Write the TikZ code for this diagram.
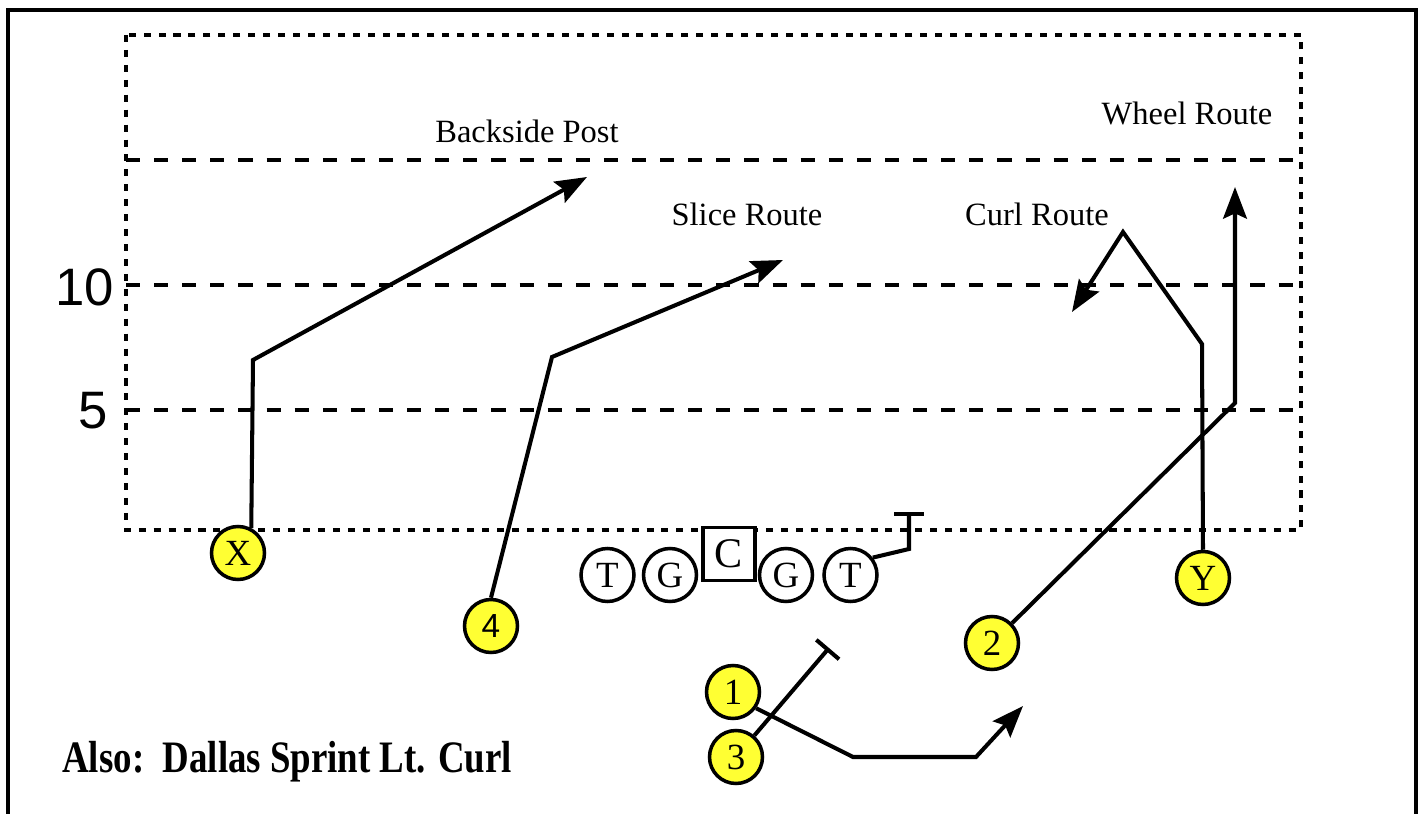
\documentclass[tikz,border=0pt]{standalone}
\usepackage{xcolor}
\usepackage{fontspec}
\setmainfont{Liberation Serif}
\newfontfamily\numfont{Liberation Sans}
\newfontfamily\notefont[FakeStretch=0.82]{Liberation Serif}
\usepackage{tikz}
\usetikzlibrary{arrows.meta, positioning}
\definecolor{playeryellow}{HTML}{FFFF33}

\begin{document}
\begin{tikzpicture}[
			x=0.02cm, y=-0.02cm,
			every node/.style={font=\fontsize{18.5}{22}\selectfont},
			player/.style={
				circle, draw, fill=playeryellow, line width=2pt,
				minimum size=1.06cm, inner sep=0pt, font=\fontsize{21}{24}\selectfont
			},
			lineman/.style={
				circle, draw, fill=white, line width=2pt,
				minimum size=1.06cm, inner sep=0pt, font=\fontsize{21}{24}\selectfont
			},
			centerbox/.style={
				rectangle, draw, fill=white, line width=2pt,
				minimum width=1.04cm, minimum height=1.06cm, inner sep=0pt,
				font=\fontsize{24}{27}\selectfont
			},
			routename/.style={anchor=base, inner sep=0pt},
			yardline/.style={line width=2.2pt, dash pattern=on 8pt off 8pt},
			field/.style={line width=2.2pt, dash pattern=on 4pt off 4.5pt},
			route/.style={
				-{Stealth[length=18pt,width=13.5pt,inset=3pt]},
				line width=2.3pt
			},
			block/.style={
				-{Bar[width=17pt]},
				line width=2.3pt
			}
			]
			
			\useasboundingbox (0,0) rectangle (1421,814);
			\draw[line width=2.8pt] (8,814) |- (1416,10) -- (1416,814);
			
			% field and yard lines
			\draw[field] (126,35) rectangle (1301,530);
			\draw[yardline] (126,160) -- (1301,160);
			\draw[yardline] (126,285) -- (1301,285);
			\draw[yardline] (126,410) -- (1301,410);
			\node[anchor=east, inner sep=0pt, font=\numfont\fontsize{30}{34}\selectfont] (ten) at (114,287) {10};
			\node[anchor=east, inner sep=0pt, font=\numfont\fontsize{30}{34}\selectfont] (five) at (108,411) {5};
			
			% route names
			\node[routename] (post) at (527,143) {Backside Post};
			\node[routename] (wheel) at (1187,125) {Wheel Route};
			\node[routename] (slice) at (747,226) {Slice Route};
			\node[routename] (curl) at (1037,226) {Curl Route};
			
			% line
			\node[lineman] (lG) at (670,575) {G};
			\node[lineman, left=0.12cm of lG] (lT) {T};
			\node[centerbox] (c) at (729,554) {C};
			\node[lineman] (rG) at (786,575) {G};
			\node[lineman, right=0.16cm of rG] (rT) {T};
			
			% backs and receivers
			\node[player] (pX) at (238,553) {X};
			\node[player, font=\numfont\fontsize{19}{22}\selectfont] (p4) at (491,626) {4};
			\node[player] (p2) at (992,643) {2};
			\node[player] (p1) at (733,692) {1};
			\node[player] (p3) at (736,757) {3};
			\node[player] (pY) at (1203,578) {Y};
			
			\draw[route] (pX.62) -- (253,360) -- (587,177);
			\draw[route] (p4.north) -- (552,357) -- (783,260);
			\draw[route] (pY.north) -- (1202,344) -- (1123,232) -- (1072,312);
			\draw[route] (p2) -- (1235,403) -- (1235,187);
			\draw[route] (p1.-35) -- (853,757) -- (976,757) -- (1023,706);
			\draw[block] (p3) -- (829,648);
			\draw[block] (rT.38) -- (909,549) -- (909,512);
			
			\node[anchor=base west, inner sep=0pt, font=\notefont\bfseries\fontsize{25.6}{30}\selectfont] (note) at (62,772) {Also:\ \ Dallas Sprint Lt. Curl};
			
		\end{tikzpicture}
\end{document}
